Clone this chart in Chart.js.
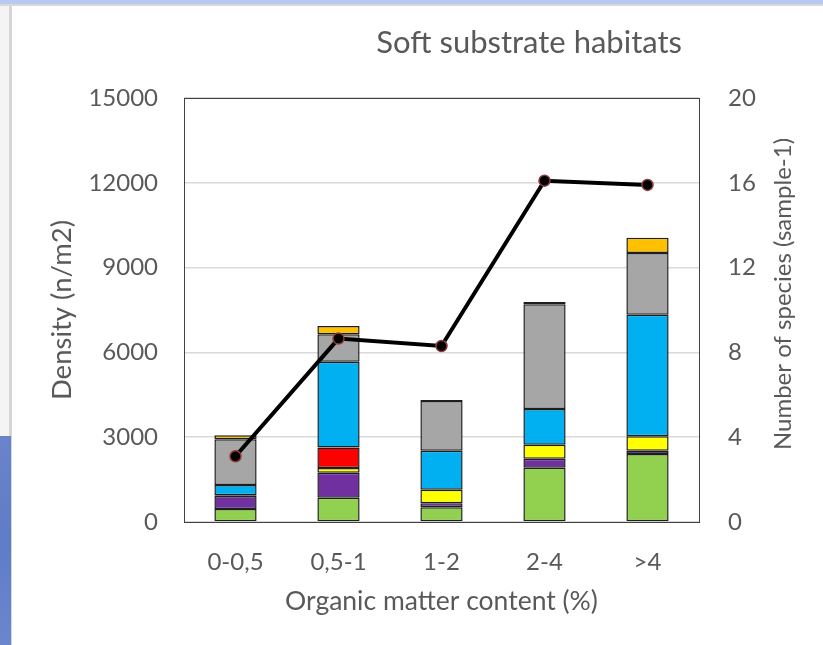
<!DOCTYPE html>
<html>
<head>
<meta charset="utf-8">
<title>Soft substrate habitats</title>
<script src="https://cdn.jsdelivr.net/npm/chart.js@4/dist/chart.umd.min.js"></script>
<style>
  html, body { margin: 0; padding: 0; background: #ffffff; }
  #wrap { position: relative; width: 823px; height: 645px; overflow: hidden; background: #ffffff; }
  .band-top { position: absolute; left: 0; top: 0; width: 823px; height: 4px; background: #b9c9f2; }
  .band-top-line { position: absolute; left: 0; top: 4px; width: 823px; height: 2px; background: #d9d9d9; }
  .side-light { position: absolute; left: 0; top: 6px; width: 9px; height: 430px; background: #f4f4f4; }
  .side-line { position: absolute; left: 9px; top: 6px; width: 3px; height: 639px; background: #d6d6d6; }
  .side-blue { position: absolute; left: 0; top: 436px; width: 11px; height: 209px;
               background: linear-gradient(180deg, #6984cc 0%, #5f7cc6 50%, #6a86cf 100%); }
  canvas { position: absolute; left: 0; top: 0; }
</style>
</head>
<body>
<div id="wrap">
  <div class="band-top"></div>
  <div class="band-top-line"></div>
  <div class="side-light"></div>
  <div class="side-line"></div>
  <div class="side-blue"></div>
  <canvas id="chart" width="823" height="645"></canvas>
</div>
<script>
// Organic matter classes
const categories = ['0-0,5', '0,5-1', '1-2', '2-4', '>4'];

// Density (n/m2) per faunal group, stacked bottom to top
const greenGroup  = [460, 860, 520, 1920, 2405];
const purpleGroup = [460, 885, 140, 320, 115];
const yellowGroup = [25, 165, 485, 495, 510];
const redGroup    = [null, 730, null, null, null];
const blueGroup   = [365, 3030, 1375, 1265, 4305];
const greyGroup   = [1615, 970, 1760, 3700, 2180];
const orangeGroup = [140, 295, 35, 80, 545];

// Number of species per sample
const speciesCount = [3.1, 8.65, 8.3, 16.1, 15.9];

// Axis ticks
const densityTicks = [0, 3000, 6000, 9000, 12000, 15000];
const speciesTicks = [0, 4, 8, 12, 16, 20];

const chartTitle = 'Soft substrate habitats';
const speciesAxisTitle = 'Number of species (sample-1)';
const textColor = '#595959';
const fontFamily = 'Lato, "Open Sans", "Liberation Sans", sans-serif';

const barBorder = '#1e1e1e';
function barSet(label, data, color) {
  return {
    type: 'bar', label, data,
    backgroundColor: color,
    borderColor: barBorder,
    borderWidth: 1.5,
    borderSkipped: false,
    yAxisID: 'y',
    stack: 'density',
    categoryPercentage: 1.0,
    barPercentage: 0.41,
    order: 2
  };
}

// Plot frame, chart title and the right-hand axis title (reads bottom to top)
const framePlugin = {
  id: 'frame',
  beforeDatasetsDraw(chart) {
    const { ctx, chartArea: a } = chart;
    ctx.save();
    ctx.strokeStyle = '#404040';
    ctx.lineWidth = 1;
    ctx.strokeRect(Math.round(a.left) + 0.5, Math.round(a.top) + 0.5,
                   Math.round(a.right - a.left), Math.round(a.bottom - a.top));
    ctx.restore();
  },
  afterDraw(chart) {
    const { ctx, chartArea: a } = chart;
    ctx.save();
    ctx.fillStyle = textColor;
    ctx.font = '31px ' + fontFamily;
    ctx.textAlign = 'right';
    ctx.textBaseline = 'alphabetic';
    ctx.fillText(chartTitle, a.right - 17, 53);
    ctx.restore();

    const right = chart.scales.y1;
    ctx.save();
    ctx.fillStyle = textColor;
    ctx.font = '24px ' + fontFamily;
    ctx.textAlign = 'center';
    ctx.textBaseline = 'middle';
    ctx.translate(right.right - 40, (a.top + a.bottom) / 2 - 16);
    ctx.rotate(-Math.PI / 2);
    ctx.fillText(speciesAxisTitle, 0, 0);
    ctx.restore();
  }
};

const plainNumber = v => String(v);

new Chart(document.getElementById('chart'), {
  data: {
    labels: categories,
    datasets: [
      {
        type: 'line',
        label: 'Number of species',
        data: speciesCount,
        yAxisID: 'y1',
        borderColor: '#000000',
        borderWidth: 4,
        pointRadius: 5.5,
        pointBackgroundColor: '#000000',
        pointBorderColor: '#8e3a3a',
        pointBorderWidth: 1.5,
        tension: 0,
        order: 1
      },
      barSet('Group 1', greenGroup, '#92d050'),
      barSet('Group 2', purpleGroup, '#7030a0'),
      barSet('Group 3', yellowGroup, '#ffff00'),
      barSet('Group 4', redGroup, '#ff0000'),
      barSet('Group 5', blueGroup, '#00b0f0'),
      barSet('Group 6', greyGroup, '#a6a6a6'),
      barSet('Group 7', orangeGroup, '#ffc000')
    ]
  },
  options: {
    responsive: false,
    animation: false,
    layout: { padding: { top: 98, left: 0, right: 0, bottom: 0 } },
    plugins: {
      legend: { display: false },
      tooltip: { enabled: false },
      title: { display: false }
    },
    scales: {
      x: {
        stacked: true,
        grid: { display: false, drawTicks: false },
        border: { display: false },
        ticks: { color: textColor, font: { family: fontFamily, size: 24 }, padding: 26 },
        title: {
          display: true, text: 'Organic matter content (%)', color: textColor,
          font: { family: fontFamily, size: 26.5 }, padding: { top: 0, bottom: 28 }
        },
        afterFit(scale) { scale.height = 123; }
      },
      y: {
        type: 'linear', position: 'left', stacked: true,
        min: 0, max: 15000,
        afterBuildTicks(scale) { scale.ticks = densityTicks.map(v => ({ value: v })); },
        grid: { color: '#d9d9d9', lineWidth: 1.5, drawTicks: false },
        border: { display: false },
        ticks: { color: textColor, font: { family: fontFamily, size: 24 }, padding: 26, callback: plainNumber },
        title: {
          display: true, text: 'Density (n/m2)', color: textColor,
          font: { family: fontFamily, size: 27.5 }, padding: { top: 46, bottom: 0 }
        },
        afterFit(scale) { scale.width = 184; }
      },
      y1: {
        type: 'linear', position: 'right',
        min: 0, max: 20,
        afterBuildTicks(scale) { scale.ticks = speciesTicks.map(v => ({ value: v })); },
        grid: { display: false, drawTicks: false },
        border: { display: false },
        ticks: { color: textColor, font: { family: fontFamily, size: 24 }, padding: 29, callback: plainNumber },
        title: { display: false },
        afterFit(scale) { scale.width = 124; }
      }
    }
  },
  plugins: [framePlugin]
});
</script>
</body>
</html>
